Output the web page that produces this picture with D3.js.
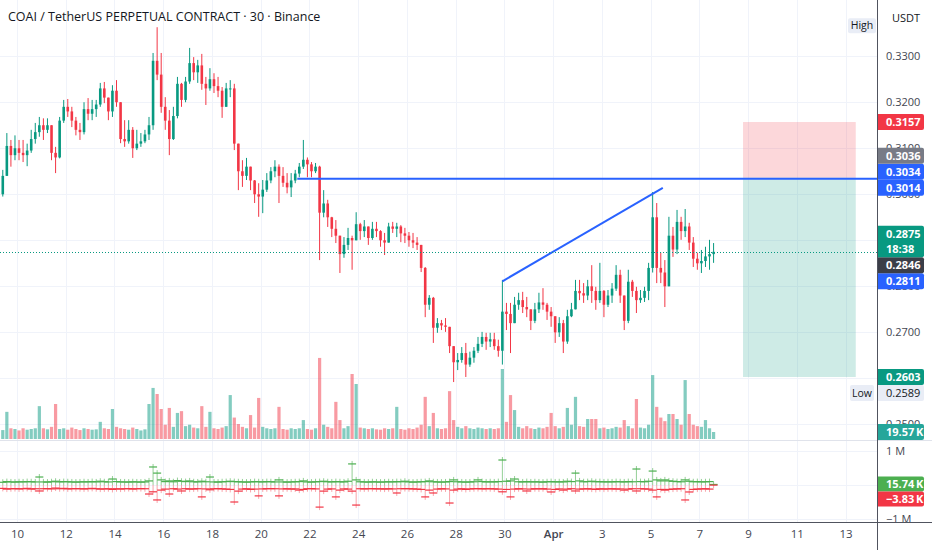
<!DOCTYPE html>
<html>
<head>
<meta charset="utf-8">
<script src="https://cdn.jsdelivr.net/npm/d3@7"></script>
<style>
  body { margin: 0; background: #fff; }
  svg { display: block; font-family: "Open Sans", "Noto Sans", sans-serif; }
</style>
</head>
<body>
<svg width="932" height="550"></svg>
<script>
// 4h candles, first one opens Mar 9 08:00 (UTC)
var firstCandle = Date.UTC(2026, 2, 9, 8);
var firstOpen = 0.3000;

var closes = [
  0.3040, 0.3105, 0.3085, 0.3100, 0.3090, 0.3085, 0.3095, 0.3120, 0.3135, 0.3150,
  0.3140, 0.3150, 0.3090, 0.3080, 0.3160, 0.3190, 0.3180, 0.3160, 0.3140, 0.3135,
  0.3185, 0.3175, 0.3185, 0.3195, 0.3230, 0.3210, 0.3180, 0.3225, 0.3200, 0.3120,
  0.3115, 0.3140, 0.3100, 0.3110, 0.3115, 0.3130, 0.3150, 0.3290, 0.3260, 0.3190,
  0.3160, 0.3120, 0.3170, 0.3240, 0.3205, 0.3245, 0.3285, 0.3265, 0.3280, 0.3240,
  0.3230, 0.3250, 0.3235, 0.3225, 0.3190, 0.3230, 0.3230, 0.3110, 0.3050, 0.3040,
  0.3060, 0.3030, 0.3000, 0.2995, 0.3010, 0.3030, 0.3050, 0.3060, 0.3040, 0.3025,
  0.3015, 0.3030, 0.3045, 0.3060, 0.3075, 0.3065, 0.3050, 0.3060, 0.2960, 0.2980,
  0.2950, 0.2925, 0.2910, 0.2870, 0.2890, 0.2905, 0.2900, 0.2935, 0.2920, 0.2930,
  0.2905, 0.2925, 0.2920, 0.2900, 0.2895, 0.2930, 0.2925, 0.2930, 0.2915, 0.2910,
  0.2900, 0.2895, 0.2890, 0.2840, 0.2760, 0.2775, 0.2710, 0.2720, 0.2715, 0.2712,
  0.2670, 0.2635, 0.2640, 0.2655, 0.2630, 0.2645, 0.2660, 0.2675, 0.2690, 0.2680,
  0.2685, 0.2670, 0.2660, 0.2745, 0.2740, 0.2720, 0.2760, 0.2770, 0.2755, 0.2750,
  0.2725, 0.2750, 0.2765, 0.2760, 0.2745, 0.2735, 0.2700, 0.2720, 0.2680, 0.2735,
  0.2750, 0.2790, 0.2785, 0.2780, 0.2800, 0.2790, 0.2770, 0.2790, 0.2760, 0.2780,
  0.2795, 0.2825, 0.2780, 0.2725, 0.2810, 0.2790, 0.2770, 0.2775, 0.2790, 0.2840,
  0.2950, 0.2840, 0.2830, 0.2800, 0.2910, 0.2880, 0.2940, 0.2920, 0.2930, 0.2895,
  0.2860, 0.2850, 0.2855, 0.2865, 0.2870, 0.2875
];
var highs = [
  0.3053, 0.3133, 0.3118, 0.3128, 0.3118, 0.3118, 0.3110, 0.3140, 0.3155, 0.3168,
  0.3165, 0.3165, 0.3150, 0.3103, 0.3168, 0.3205, 0.3207, 0.3190, 0.3168, 0.3155,
  0.3200, 0.3209, 0.3205, 0.3205, 0.3242, 0.3244, 0.3210, 0.3237, 0.3248, 0.3200,
  0.3161, 0.3161, 0.3146, 0.3140, 0.3133, 0.3140, 0.3168, 0.3307, 0.3363, 0.3307,
  0.3211, 0.3183, 0.3190, 0.3255, 0.3242, 0.3255, 0.3318, 0.3298, 0.3292, 0.3305,
  0.3255, 0.3274, 0.3263, 0.3255, 0.3233, 0.3242, 0.3248, 0.3240, 0.3110, 0.3074,
  0.3079, 0.3059, 0.3031, 0.3024, 0.3031, 0.3046, 0.3059, 0.3074, 0.3065, 0.3059,
  0.3046, 0.3046, 0.3053, 0.3068, 0.3118, 0.3080, 0.3070, 0.3068, 0.3062, 0.3009,
  0.2988, 0.2951, 0.2944, 0.2910, 0.2907, 0.2927, 0.2910, 0.2961, 0.2938, 0.2944,
  0.2929, 0.2940, 0.2940, 0.2922, 0.2916, 0.2938, 0.2940, 0.2938, 0.2933, 0.2927,
  0.2918, 0.2916, 0.2907, 0.2890, 0.2842, 0.2781, 0.2777, 0.2731, 0.2727, 0.2731,
  0.2712, 0.2670, 0.2655, 0.2668, 0.2677, 0.2658, 0.2668, 0.2690, 0.2701, 0.2699,
  0.2699, 0.2699, 0.2684, 0.2814, 0.2764, 0.2764, 0.2777, 0.2786, 0.2788, 0.2777,
  0.2750, 0.2764, 0.2786, 0.2796, 0.2764, 0.2755, 0.2733, 0.2733, 0.2727, 0.2749,
  0.2764, 0.2814, 0.2814, 0.2807, 0.2814, 0.2846, 0.2799, 0.2851, 0.2792, 0.2792,
  0.2807, 0.2846, 0.2836, 0.2780, 0.2836, 0.2814, 0.2799, 0.2792, 0.2799, 0.2851,
  0.3005, 0.2981, 0.2873, 0.2857, 0.2951, 0.2929, 0.2966, 0.2951, 0.2968, 0.2938,
  0.2907, 0.2873, 0.2879, 0.2886, 0.2901, 0.2894
];
var lows = [
  0.2995, 0.3060, 0.3060, 0.3074, 0.3074, 0.3070, 0.3061, 0.3090, 0.3110, 0.3125,
  0.3118, 0.3133, 0.3074, 0.3046, 0.3078, 0.3155, 0.3168, 0.3146, 0.3128, 0.3118,
  0.3130, 0.3161, 0.3161, 0.3168, 0.3190, 0.3198, 0.3161, 0.3168, 0.3190, 0.3111,
  0.3103, 0.3110, 0.3079, 0.3096, 0.3103, 0.3111, 0.3118, 0.3140, 0.3248, 0.3177,
  0.3140, 0.3085, 0.3118, 0.3165, 0.3190, 0.3200, 0.3240, 0.3248, 0.3242, 0.3227,
  0.3194, 0.3225, 0.3220, 0.3211, 0.3166, 0.3190, 0.3211, 0.3096, 0.3009, 0.3016,
  0.3031, 0.3009, 0.2981, 0.2951, 0.2959, 0.3005, 0.3024, 0.3037, 0.2981, 0.3016,
  0.3002, 0.2994, 0.3024, 0.3037, 0.3055, 0.3037, 0.3037, 0.3046, 0.2857, 0.2950,
  0.2929, 0.2907, 0.2894, 0.2829, 0.2862, 0.2879, 0.2836, 0.2900, 0.2901, 0.2907,
  0.2890, 0.2901, 0.2907, 0.2886, 0.2868, 0.2895, 0.2916, 0.2907, 0.2896, 0.2894,
  0.2886, 0.2883, 0.2879, 0.2831, 0.2733, 0.2749, 0.2677, 0.2699, 0.2705, 0.2701,
  0.2655, 0.2592, 0.2618, 0.2634, 0.2603, 0.2625, 0.2634, 0.2655, 0.2668, 0.2662,
  0.2668, 0.2662, 0.2647, 0.2630, 0.2705, 0.2655, 0.2720, 0.2749, 0.2742, 0.2733,
  0.2705, 0.2720, 0.2742, 0.2749, 0.2727, 0.2712, 0.2677, 0.2690, 0.2655, 0.2675,
  0.2733, 0.2750, 0.2770, 0.2764, 0.2770, 0.2764, 0.2749, 0.2764, 0.2733, 0.2755,
  0.2764, 0.2790, 0.2764, 0.2705, 0.2720, 0.2777, 0.2742, 0.2764, 0.2766, 0.2770,
  0.2830, 0.2807, 0.2807, 0.2755, 0.2800, 0.2864, 0.2870, 0.2901, 0.2907, 0.2879,
  0.2842, 0.2836, 0.2829, 0.2842, 0.2836, 0.2851
];
// volume per candle, thousands of COAI
var volumes = [
  25, 76, 30, 28, 24, 30, 26, 28, 30, 92,
  30, 27, 34, 98, 28, 30, 26, 32, 28, 25,
  30, 28, 26, 27, 48, 30, 28, 84, 34, 30,
  28, 26, 32, 28, 24, 27, 98, 143, 126, 84,
  40, 87, 34, 73, 78, 36, 40, 32, 30, 92,
  34, 76, 30, 28, 32, 36, 123, 60, 42, 34,
  30, 67, 32, 115, 34, 30, 28, 30, 90, 28,
  26, 30, 28, 30, 53, 28, 26, 30, 227, 40,
  34, 30, 104, 53, 30, 36, 182, 154, 32, 30,
  28, 30, 27, 26, 30, 28, 30, 90, 28, 26,
  30, 28, 32, 40, 118, 36, 73, 30, 28, 30,
  134, 53, 34, 30, 36, 30, 28, 32, 30, 28,
  30, 28, 30, 196, 48, 123, 81, 34, 30, 36,
  30, 28, 32, 30, 34, 73, 36, 30, 34, 87,
  40, 118, 36, 34, 56, 56, 56, 30, 32, 28,
  30, 34, 32, 53, 36, 30, 112, 32, 30, 40,
  179, 90, 60, 50, 70, 70, 56, 40, 165, 70,
  40, 36, 34, 53, 30, 19.57
];
// lower pane: buy / sell delta per candle, thousands
var buyDelta = [
  80, 100, 90, 85, 95, 90, 100, 95, 90, 235,
  90, 85, 95, 110, 90, 100, 95, 90, 85, 90,
  95, 90, 100, 90, 110, 95, 90, 176, 100, 90,
  90, 85, 95, 90, 85, 90, 120, 530, 350, 150,
  100, 120, 95, 130, 110, 100, 120, 95, 90, 110,
  95, 235, 90, 85, 95, 100, 110, 100, 95, 90,
  85, 90, 100, 95, 90, 100, 95, 90, 150, 90,
  85, 90, 95, 100, 120, 90, 85, 95, 100, 110,
  95, 90, 100, 95, 90, 110, 620, 150, 95, 90,
  85, 95, 90, 85, 90, 95, 90, 100, 95, 110,
  90, 85, 90, 95, 100, 120, 95, 90, 85, 90,
  100, 150, 95, 90, 85, 90, 95, 150, 100, 90,
  95, 90, 100, 735, 110, 120, 176, 95, 90, 100,
  90, 95, 90, 85, 95, 100, 90, 95, 90, 110,
  100, 350, 120, 95, 100, 110, 95, 100, 90, 95,
  90, 100, 95, 90, 100, 95, 470, 100, 95, 110,
  410, 150, 120, 150, 120, 110, 100, 95, 150, 110,
  95, 100, 90, 95, 100, 15.74
];
var sellDelta = [
  -100, -120, -110, -105, -115, -110, -100, -120, -110, -176,
  -110, -105, -115, -90, -110, -100, -115, -110, -105, -110,
  -115, -110, -100, -110, -120, -115, -110, -130, -110, -120,
  -110, -105, -120, -110, -105, -110, -265, -200, -440, -150,
  -120, -265, -110, -120, -176, -110, -120, -115, -110, -350,
  -115, -140, -110, -105, -115, -120, -130, -500, -180, -120,
  -110, -130, -120, -320, -115, -110, -105, -110, -320, -115,
  -110, -120, -115, -150, -130, -110, -105, -115, -650, -180,
  -120, -115, -350, -150, -115, -120, -180, -590, -110, -115,
  -110, -105, -115, -110, -120, -110, -115, -235, -110, -105,
  -110, -115, -120, -130, -350, -150, -235, -120, -110, -115,
  -530, -150, -120, -110, -130, -115, -110, -105, -115, -110,
  -110, -115, -120, -200, -130, -350, -120, -110, -115, -176,
  -120, -110, -115, -110, -120, -205, -130, -115, -150, -120,
  -110, -176, -120, -115, -110, -120, -130, -110, -120, -115,
  -110, -120, -115, -150, -120, -110, -176, -110, -115, -120,
  -150, -350, -130, -150, -130, -120, -115, -110, -440, -205,
  -130, -120, -115, -110, -120, -3.83
];

var tickDates = ["2026-03-10", "2026-03-12", "2026-03-14", "2026-03-16", "2026-03-18", "2026-03-20",
  "2026-03-22", "2026-03-24", "2026-03-26", "2026-03-28", "2026-03-30", "2026-04-01",
  "2026-04-03", "2026-04-05", "2026-04-07", "2026-04-09", "2026-04-11", "2026-04-13"];
var tickLabels = ["10", "12", "14", "16", "18", "20", "22", "24", "26", "28", "30", "Apr",
  "3", "5", "7", "9", "11", "13"];
var priceTicks = [0.33, 0.32, 0.31, 0.30, 0.29, 0.28, 0.27, 0.26, 0.25];
var deltaTicks = [1000, 0, -1000];

// drawings
var horizontalLine = { t: "2026-03-21T12:00:00Z", price: 0.3034 };
var trendLine = [{ t: "2026-03-29T22:00:00Z", price: 0.2811 }, { t: "2026-04-05T12:00:00Z", price: 0.3014 }];
var shortPosition = { t1: "2026-04-08T19:00:00Z", t2: "2026-04-13T10:00:00Z", entry: 0.3036, stop: 0.3157, target: 0.2603 };
var lastPrice = 0.2875, prevClose = 0.2846, sessionHigh = 0.3363, sessionLow = 0.2589;

var UP = "#089981", DOWN = "#f23645", BLUE = "#2962ff", GRID = "#f0f3fa", AXIS = "#50535e";
var chartRight = 877, paneBottom = 441, axisTop = 522;

var svg = d3.select("svg");

var x = d3.scaleUtc()
  .domain([new Date("2026-03-10T00:00:00Z"), new Date("2026-04-13T00:00:00Z")])
  .range([17, 845.6]);
var y = d3.scaleLinear().domain([0.25, 0.33]).range([424.4, 56.2]);
var yVol = d3.scaleLinear().domain([0, 196]).range([439, 369]);
var yDelta = d3.scaleLinear().domain([-1000, 1000]).range([519, 451]);

var candles = closes.map(function(c, i) {
  return {
    t: new Date(firstCandle + (4 * i + 2) * 3600e3),
    o: i ? closes[i - 1] : firstOpen,
    h: highs[i], l: lows[i], c: c,
    v: volumes[i], buy: buyDelta[i], sell: sellDelta[i]
  };
});

svg.append("clipPath").attr("id", "clipPrice")
  .append("rect").attr("x", 0).attr("y", 0).attr("width", chartRight).attr("height", paneBottom);
svg.append("clipPath").attr("id", "clipDelta")
  .append("rect").attr("x", 0).attr("y", paneBottom).attr("width", 932).attr("height", axisTop - paneBottom);

// grid
var grid = svg.append("g");
grid.selectAll(".vgrid").data(tickDates).enter().append("line")
  .attr("x1", function(d) { return Math.round(x(new Date(d + "T00:00:00Z"))) + 0.5; })
  .attr("x2", function(d) { return Math.round(x(new Date(d + "T00:00:00Z"))) + 0.5; })
  .attr("y1", 0).attr("y2", axisTop)
  .attr("stroke", GRID);
grid.selectAll(".hgrid").data(priceTicks).enter().append("line")
  .attr("x1", 0).attr("x2", chartRight)
  .attr("y1", function(d) { return Math.round(y(d)) + 0.5; })
  .attr("y2", function(d) { return Math.round(y(d)) + 0.5; })
  .attr("stroke", GRID);
grid.selectAll(".dgrid").data(deltaTicks).enter().append("line")
  .attr("x1", 0).attr("x2", chartRight)
  .attr("y1", function(d) { return Math.round(yDelta(d)) + 0.5; })
  .attr("y2", function(d) { return Math.round(yDelta(d)) + 0.5; })
  .attr("stroke", GRID);

// short position tool
var pos = svg.append("g");
var px1 = x(new Date(shortPosition.t1)), px2 = x(new Date(shortPosition.t2));
pos.append("rect")
  .attr("x", px1).attr("width", px2 - px1)
  .attr("y", y(shortPosition.stop)).attr("height", y(shortPosition.entry) - y(shortPosition.stop))
  .attr("fill", "rgba(242,54,69,0.2)");
pos.append("rect")
  .attr("x", px1).attr("width", px2 - px1)
  .attr("y", y(shortPosition.entry)).attr("height", y(shortPosition.target) - y(shortPosition.entry))
  .attr("fill", "rgba(8,153,129,0.2)");

var price = svg.append("g").attr("clip-path", "url(#clipPrice)");

// volume
price.selectAll(".vol").data(candles).enter().append("rect")
  .attr("x", function(d) { return x(d.t) - 1.6; })
  .attr("width", 3.2)
  .attr("y", function(d) { return yVol(d.v); })
  .attr("height", function(d) { return yVol(0) - yVol(d.v); })
  .attr("fill", function(d) { return d.c >= d.o ? "rgba(8,153,129,0.5)" : "rgba(242,54,69,0.5)"; });

// candles
var candleG = price.selectAll(".candle").data(candles).enter().append("g");
candleG.append("line")
  .attr("x1", function(d) { return x(d.t); })
  .attr("x2", function(d) { return x(d.t); })
  .attr("y1", function(d) { return y(Math.max(d.h, d.o, d.c)); })
  .attr("y2", function(d) { return y(Math.min(d.l, d.o, d.c)); })
  .attr("stroke", function(d) { return d.c >= d.o ? UP : DOWN; })
  .attr("stroke-width", 1);
candleG.append("rect")
  .attr("x", function(d) { return x(d.t) - 1.3; })
  .attr("width", 2.6)
  .attr("y", function(d) { return y(Math.max(d.o, d.c)); })
  .attr("height", function(d) { return Math.max(1, Math.abs(y(d.o) - y(d.c))); })
  .attr("fill", function(d) { return d.c >= d.o ? UP : DOWN; });

// drawings
price.append("line")
  .attr("x1", x(new Date(horizontalLine.t))).attr("x2", chartRight)
  .attr("y1", y(horizontalLine.price)).attr("y2", y(horizontalLine.price))
  .attr("stroke", BLUE).attr("stroke-width", 2);
price.append("line")
  .attr("x1", x(new Date(trendLine[0].t))).attr("y1", y(trendLine[0].price))
  .attr("x2", x(new Date(trendLine[1].t))).attr("y2", y(trendLine[1].price))
  .attr("stroke", BLUE).attr("stroke-width", 2);
price.append("line")
  .attr("x1", 0).attr("x2", chartRight)
  .attr("y1", Math.round(y(lastPrice)) + 0.5).attr("y2", Math.round(y(lastPrice)) + 0.5)
  .attr("stroke", UP).attr("stroke-width", 1).attr("stroke-dasharray", "1,2");

// high / low badges inside the chart
var badge = svg.append("g").attr("font-size", 10.5).attr("fill", "#131722");
badge.append("rect").attr("x", 848).attr("width", 28).attr("y", y(sessionHigh) - 9).attr("height", 15)
  .attr("rx", 2).attr("fill", "#e9edf6");
badge.append("text").attr("x", 862).attr("y", y(sessionHigh) - 1.5).attr("dy", "0.35em")
  .attr("text-anchor", "middle").text("High");

// lower pane: buy / sell delta crosses
var delta = svg.append("g").attr("clip-path", "url(#clipDelta)");
var y0 = yDelta(0);
delta.selectAll(".buyV").data(candles).enter().append("line")
  .attr("x1", function(d) { return x(d.t); }).attr("x2", function(d) { return x(d.t); })
  .attr("y1", y0).attr("y2", function(d) { return yDelta(d.buy) - 3; })
  .attr("stroke", "#4caf50").attr("stroke-opacity", 0.6);
delta.selectAll(".buyT").data(candles).enter().append("line")
  .attr("x1", function(d) { return x(d.t) - 4; }).attr("x2", function(d) { return x(d.t) + 4; })
  .attr("y1", function(d) { return yDelta(d.buy); }).attr("y2", function(d) { return yDelta(d.buy); })
  .attr("stroke", "#4caf50").attr("stroke-width", 1.2);
delta.selectAll(".sellV").data(candles).enter().append("line")
  .attr("x1", function(d) { return x(d.t); }).attr("x2", function(d) { return x(d.t); })
  .attr("y1", y0).attr("y2", function(d) { return yDelta(d.sell) + 3; })
  .attr("stroke", "#f23645").attr("stroke-opacity", 0.45);
delta.selectAll(".sellT").data(candles).enter().append("line")
  .attr("x1", function(d) { return x(d.t) - 4; }).attr("x2", function(d) { return x(d.t) + 4; })
  .attr("y1", function(d) { return yDelta(d.sell); }).attr("y2", function(d) { return yDelta(d.sell); })
  .attr("stroke", "#f23645").attr("stroke-width", 1.2);

// pane separator and axis borders
svg.append("line").attr("x1", 0).attr("x2", 932).attr("y1", paneBottom - 0.5).attr("y2", paneBottom - 0.5)
  .attr("stroke", "#e0e3eb");
svg.append("line").attr("x1", chartRight + 0.5).attr("x2", chartRight + 0.5).attr("y1", 0).attr("y2", 550)
  .attr("stroke", AXIS);
svg.append("line").attr("x1", 0).attr("x2", 932).attr("y1", axisTop + 0.5).attr("y2", axisTop + 0.5)
  .attr("stroke", AXIS);

// price axis badges, pushed apart bottom-up like the platform does
var axisLabels = [
  { price: shortPosition.stop, bg: DOWN, fg: "#fff", lines: ["0.3157"] },
  { price: shortPosition.entry, bg: "#787b86", fg: "#fff", lines: ["0.3036"] },
  { price: horizontalLine.price, bg: BLUE, fg: "#fff", lines: ["0.3034"] },
  { price: trendLine[1].price, bg: BLUE, fg: "#fff", lines: ["0.3014"] },
  { price: lastPrice, bg: UP, fg: "#fff", lines: ["0.2875", "18:38"] },
  { price: prevClose, bg: "#3b3e48", fg: "#fff", lines: ["0.2846"] },
  { price: trendLine[0].price, bg: BLUE, fg: "#fff", lines: ["0.2811"] },
  { price: shortPosition.target, bg: UP, fg: "#fff", lines: ["0.2603"] }
];
var lineH = 15.5;
axisLabels.forEach(function(d) { d.top = y(d.price) - 8; d.h = 16 + (d.lines.length - 1) * lineH; });
axisLabels.sort(function(a, b) { return b.top - a.top; });
var limit = Infinity;
axisLabels.forEach(function(d) {
  if (d.top + d.h > limit) d.top = limit - d.h;
  limit = d.top;
});
var lowTop = y(shortPosition.target) + 8;
var volTop = yVol(volumes[volumes.length - 1]) - 8;
var covers = axisLabels.map(function(d) { return [d.top, d.top + d.h]; })
  .concat([[lowTop, lowTop + 16], [volTop, volTop + 16]]);

// price axis: tick labels that sit wholly under a badge are hidden
var shownTicks = priceTicks.filter(function(p) {
  var c = y(p);
  return !covers.some(function(r) { return c - 4 >= r[0] && c + 4 <= r[1]; });
});
var yAxis = d3.axisRight(y).tickValues(shownTicks).tickFormat(d3.format(".4f")).tickSize(0).tickPadding(9);
var yAxisG = svg.append("g").attr("transform", "translate(" + chartRight + ",0)").call(yAxis);
yAxisG.select(".domain").remove();
yAxisG.selectAll("text").attr("fill", "#434651").attr("font-size", 11).attr("font-family", "Open Sans");

var dAxis = d3.axisRight(yDelta).tickValues([1000, -1000])
  .tickFormat(function(d) { return d > 0 ? "1 M" : "\u22121 M"; }).tickSize(0).tickPadding(9);
var dAxisG = svg.append("g").attr("transform", "translate(" + chartRight + ",0)")
  .attr("clip-path", "url(#clipDelta)").call(dAxis);
dAxisG.select(".domain").remove();
dAxisG.selectAll("text").attr("fill", "#434651").attr("font-size", 11).attr("font-family", "Open Sans");

svg.append("text").attr("x", 906).attr("y", 18).attr("dy", "0.35em").attr("text-anchor", "middle")
  .attr("font-size", 11).attr("fill", "#131722").text("USDT");

function drawBadge(top, h, bg, fg, lines, bold) {
  var g = svg.append("g");
  g.append("path")
    .attr("d", "M" + (chartRight + 1) + "," + top + "h44a2,2 0 0 1 2,2v" + (h - 4) + "a2,2 0 0 1 -2,2h-44z")
    .attr("fill", bg);
  lines.forEach(function(t, i) {
    g.append("text").attr("x", 886).attr("y", top + 8 + i * lineH).attr("dy", "0.35em")
      .attr("font-size", 11).attr("font-weight", bold ? 700 : 400).attr("fill", fg).text(t);
  });
}
axisLabels.forEach(function(d) { drawBadge(d.top, d.h, d.bg, d.fg, d.lines, true); });

// session low badge sits under the target badge
drawBadge(lowTop, 16, "#e9edf6", "#131722", [d3.format(".4f")(sessionLow)], false);
badge.append("rect").attr("x", 850).attr("width", 24).attr("y", lowTop).attr("height", 16)
  .attr("rx", 2).attr("fill", "#e9edf6");
badge.append("text").attr("x", 862).attr("y", lowTop + 8).attr("dy", "0.35em")
  .attr("text-anchor", "middle").text("Low");

// volume and delta badges
var lastBar = candles[candles.length - 1];
drawBadge(volTop, 16, "#26a69a", "#fff", [lastBar.v.toFixed(2) + "\u2009K"], true);
var buyTop = yDelta(lastBar.buy) - 8;
drawBadge(buyTop, 15, "#4caf50", "#fff", [lastBar.buy.toFixed(2) + "\u2009K"], true);
drawBadge(buyTop + 15, 15, "#f23645", "#fff", ["\u2212" + Math.abs(lastBar.sell).toFixed(2) + "\u2009K"], true);

// time axis
var xAxis = d3.axisBottom(x)
  .tickValues(tickDates.map(function(d) { return new Date(d + "T00:00:00Z"); }))
  .tickFormat(function(d, i) { return tickLabels[i]; })
  .tickSize(0).tickPadding(8);
var xAxisG = svg.append("g").attr("transform", "translate(0," + axisTop + ")").call(xAxis);
xAxisG.select(".domain").remove();
xAxisG.selectAll("text").attr("fill", "#434651").attr("font-size", 11.5).attr("font-family", "Open Sans")
  .attr("font-weight", function(d, i) { return tickLabels[i] === "Apr" ? 600 : 400; });

// legend title
svg.append("text").attr("x", 8).attr("y", 17).attr("dy", "0.35em")
  .attr("font-size", 12.5).attr("fill", "#131722")
  .text("COAI / TetherUS PERPETUAL CONTRACT \u00b7 30 \u00b7 Binance");
</script>
</body>
</html>
